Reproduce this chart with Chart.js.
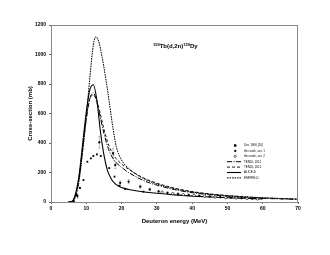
<!DOCTYPE html>
<html>
<head>
<meta charset="utf-8">
<script src="https://cdn.jsdelivr.net/npm/chart.js@4.4.1/dist/chart.umd.min.js"></script>
<style>
  html, body { margin: 0; padding: 0; background: #fff; }
  #wrap { width: 330px; height: 255px; }
</style>
</head>
<body>
<div id="wrap"><canvas id="c" width="330" height="255"></canvas></div>
<script>
// ---- data ----
const xTicks = [0, 10, 20, 30, 40, 50, 60, 70];
const yTicks = [0, 200, 400, 600, 800, 1000, 1200];

const aliceE   = [5, 6, 7, 8, 9, 10, 11, 12, 13, 14, 15, 16, 17, 18, 19, 20, 22, 25, 30, 35, 40, 45, 50, 55, 60];
const aliceS   = [0, 5, 60, 190, 400, 610, 760, 795, 690, 480, 320, 215, 160, 128, 110, 98, 85, 73, 59, 48, 40, 34, 29, 25, 21];

const tendl11E = [5, 6, 7, 8, 9, 10, 11, 12, 13, 14, 15, 16, 17, 18, 19, 20, 22, 24, 26, 28, 30, 35, 40, 45, 50, 55, 60, 65, 70];
const tendl11S = [0, 4, 50, 165, 360, 560, 700, 740, 675, 570, 465, 380, 320, 280, 255, 235, 200, 172, 148, 129, 114, 84, 63, 49, 39, 31, 25, 21, 18];

const tendl12E = [5, 6, 7, 8, 9, 10, 11, 12, 13, 14, 15, 16, 17, 18, 19, 20, 22, 24, 26, 28, 30, 35, 40, 45, 50, 55, 60, 65, 70];
const tendl12S = [0, 4, 55, 175, 375, 575, 700, 725, 685, 595, 495, 410, 350, 308, 280, 258, 222, 192, 166, 145, 128, 94, 71, 55, 44, 35, 28, 23, 19];

const empireE  = [5, 6, 7, 8, 9, 10, 11, 12, 12.7, 13.5, 14.5, 15.5, 16.5, 17.5, 18.5, 20, 22, 24, 26, 28, 30, 35, 40, 45, 50, 55, 60, 65, 70];
const empireS  = [0, 3, 40, 150, 350, 580, 840, 1065, 1120, 1090, 980, 840, 680, 510, 375, 285, 228, 190, 162, 140, 122, 90, 68, 53, 43, 35, 29, 24, 20];

const dec66E   = [6.5, 7.3, 8.2, 9.2, 10.3, 11.3, 12.0, 13.0, 14.1, 16.5, 18.0, 19.4, 21.0, 26.2];
const dec66S   = [5, 47, 95, 149, 273, 296, 312, 323, 312, 230, 172, 110, 88, 70];

const ser1E    = [7.5, 13.7, 17.6, 18.2, 19.6, 22.0, 25.3, 28.0, 30.5, 33.0, 36.0, 39.0, 42.0, 45.0, 48.0, 51.0, 54.0, 57.0];
const ser1S    = [40, 405, 332, 251, 129, 138, 104, 85, 72, 62, 55, 48, 42, 37, 33, 29, 26, 23];
const ser1Err  = [15, 40, 33, 25, 13, 14, 10, 9, 7, 6, 6, 5, 4, 4, 3, 3, 3, 2];

const ser2E    = [31.5, 34.5, 37.5, 40.5, 43.5, 46.5, 49.5, 52.5, 55.5, 58.5];
const ser2S    = [66, 57, 50, 44, 39, 34, 30, 27, 24, 21];

const legendLabels = ['Dec 1966 [10]', 'this work, ser. 1', 'this work, ser. 2', 'TENDL 2011', 'TENDL 2012', 'ALICE-D', 'EMPIRE-D'];

const FONT = "'Liberation Sans', Arial, sans-serif";

function pts(xs, ys) { return xs.map((x, i) => ({ x, y: ys[i] })); }

const lineBase = { showLine: true, pointRadius: 0, borderColor: '#000', backgroundColor: '#000', fill: false,
                   cubicInterpolationMode: 'monotone', order: 2 };

const datasets = [
  { label: legendLabels[0], data: pts(dec66E, dec66S), pointStyle: 'rect', pointRadius: 1.3,
    backgroundColor: '#000', borderColor: '#000', borderWidth: 0, showLine: false, order: 1 },
  { label: legendLabels[1], data: pts(ser1E, ser1S), pointStyle: 'rectRot', pointRadius: 1.4,
    backgroundColor: '#000', borderColor: '#000', borderWidth: 0, showLine: false, order: 1 },
  { label: legendLabels[2], data: pts(ser2E, ser2S), pointStyle: 'circle', pointRadius: 1.2,
    backgroundColor: '#fff', borderColor: '#000', borderWidth: 0.6, showLine: false, order: 1 },
  { ...lineBase, label: legendLabels[3], data: pts(tendl11E, tendl11S), borderWidth: 1, borderDash: [5, 1.5, 1, 1.5] },
  { ...lineBase, label: legendLabels[4], data: pts(tendl12E, tendl12S), borderWidth: 0.9, borderDash: [3, 2] },
  { ...lineBase, label: legendLabels[5], data: pts(aliceE, aliceS), borderWidth: 1.1 },
  { ...lineBase, label: legendLabels[6], data: pts(empireE, empireS), borderWidth: 1, borderDash: [1.6, 0.9] }
];

// error bars for ser. 1, frame, title and in-plot legend
const decor = {
  id: 'decor',
  beforeDatasetsDraw(chart) {
    const { ctx, scales: { x, y } } = chart;
    ctx.save();
    ctx.strokeStyle = '#999';
    ctx.lineWidth = 0.6;
    ser1E.forEach((e, i) => {
      const px = x.getPixelForValue(e);
      const top = y.getPixelForValue(ser1S[i] + ser1Err[i]);
      const bot = y.getPixelForValue(ser1S[i] - ser1Err[i]);
      ctx.beginPath();
      ctx.moveTo(px, top); ctx.lineTo(px, bot);
      ctx.moveTo(px - 1.2, top); ctx.lineTo(px + 1.2, top);
      ctx.moveTo(px - 1.2, bot); ctx.lineTo(px + 1.2, bot);
      ctx.stroke();
    });
    ctx.restore();
  },
  afterDraw(chart) {
    const { ctx, chartArea: a } = chart;
    ctx.save();
    // frame
    ctx.strokeStyle = '#888';
    ctx.lineWidth = 1;
    ctx.strokeRect(a.left + 0.5, a.top + 0.5, a.right - a.left - 1, a.bottom - a.top);

    // reaction title with superscripts
    ctx.fillStyle = '#000';
    ctx.textBaseline = 'alphabetic';
    let tx = 153, ty = 48;
    const parts = [['159', 4, -2.5], ['Tb(d,2n)', 6, 0], ['159', 4, -2.5], ['Dy', 6, 0]];
    parts.forEach(([t, s, dy]) => {
      ctx.font = `bold ${s}px ${FONT}`;
      ctx.fillText(t, tx, ty + dy);
      tx += ctx.measureText(t).width;
    });

    // legend
    const lx = 228, ly = 145.5, step = 5.4;
    ctx.font = `3px ${FONT}`;
    ctx.textBaseline = 'middle';
    datasets.forEach((d, i) => {
      const yy = ly + i * step;
      ctx.strokeStyle = '#000';
      ctx.fillStyle = '#000';
      if (i === 0) {
        ctx.fillRect(lx + 6, yy - 1.2, 2.4, 2.4);
      } else if (i === 1) {
        ctx.beginPath();
        ctx.moveTo(lx + 7.2, yy - 1.4); ctx.lineTo(lx + 8.6, yy);
        ctx.lineTo(lx + 7.2, yy + 1.4); ctx.lineTo(lx + 5.8, yy);
        ctx.closePath(); ctx.fill();
      } else if (i === 2) {
        ctx.lineWidth = 0.6;
        ctx.beginPath(); ctx.arc(lx + 7.2, yy, 1.1, 0, Math.PI * 2); ctx.stroke();
      } else {
        ctx.lineWidth = d.borderWidth;
        ctx.setLineDash(d.borderDash || []);
        ctx.beginPath(); ctx.moveTo(lx - 1, yy); ctx.lineTo(lx + 13, yy); ctx.stroke();
        ctx.setLineDash([]);
      }
      ctx.fillStyle = '#000';
      ctx.fillText(d.label, lx + 16, yy);
    });
    ctx.restore();
  }
};

new Chart(document.getElementById('c'), {
  type: 'scatter',
  data: { datasets },
  options: {
    responsive: false,
    animation: false,
    events: [],
    layout: { padding: { left: 27, right: 32, top: 25, bottom: 30 } },
    plugins: { legend: { display: false }, tooltip: { enabled: false } },
    scales: {
      x: {
        type: 'linear', min: 0, max: 70,
        afterBuildTicks: s => { s.ticks = xTicks.map(v => ({ value: v })); },
        afterFit: s => { s.height = 23; },
        ticks: { font: { family: FONT, size: 5, weight: 'bold' }, color: '#000', padding: 2, maxRotation: 0,
                 callback: v => String(v) },
        grid: { drawOnChartArea: false, tickLength: 2, color: '#666' },
        border: { color: '#666', width: 1 },
        title: { display: true, text: 'Deuteron energy (MeV)', color: '#000',
                 font: { family: FONT, size: 6, weight: 'bold' }, padding: { top: 3, bottom: 0 } }
      },
      y: {
        type: 'linear', min: 0, max: 1200,
        afterBuildTicks: s => { s.ticks = yTicks.map(v => ({ value: v })); },
        afterFit: s => { s.width = 24; },
        ticks: { font: { family: FONT, size: 5, weight: 'bold' }, color: '#000', padding: 3,
                 callback: v => String(v) },
        grid: { drawOnChartArea: false, tickLength: 2, color: '#666' },
        border: { color: '#666', width: 1 },
        title: { display: true, text: 'Cross-section (mb)', color: '#000',
                 font: { family: FONT, size: 6, weight: 'bold' }, padding: { top: 0, bottom: 0 } }
      }
    }
  },
  plugins: [decor]
});
</script>
</body>
</html>
